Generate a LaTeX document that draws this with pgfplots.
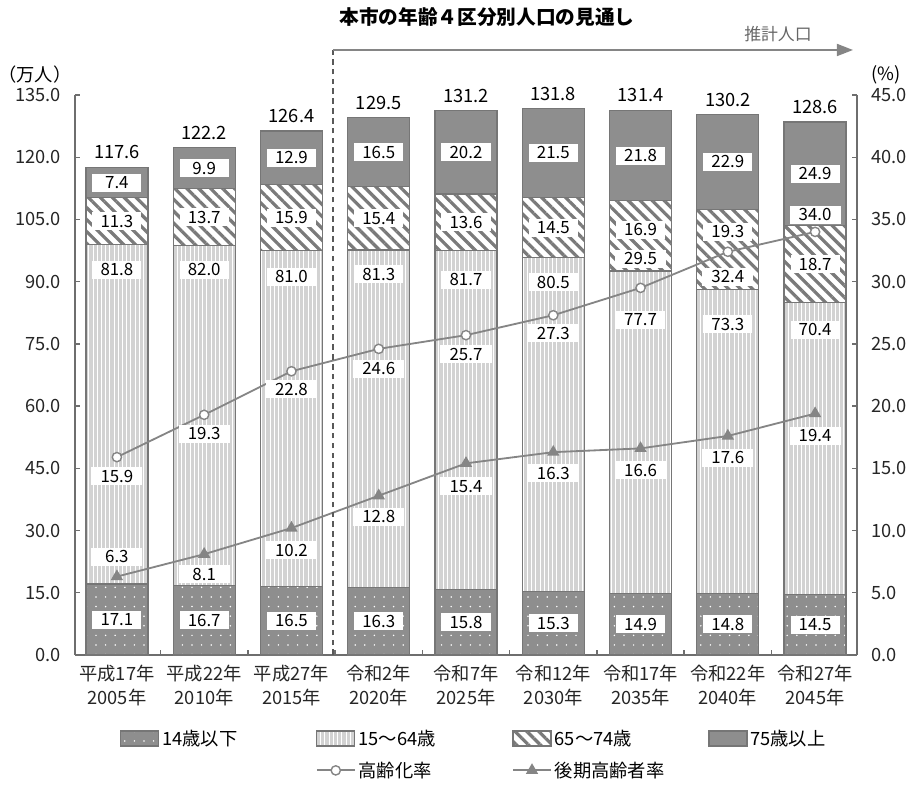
\documentclass[border=0pt]{standalone}
\usepackage{fontspec}
\setmainfont{Noto Sans CJK JP}
\usepackage{pgfplots}
\pgfplotsset{compat=1.18}
\usepackage{pgfplotstable}
\usetikzlibrary{patterns.meta,arrows.meta}

\definecolor{darkbar}{HTML}{8E8E8E}
\definecolor{lightbar}{HTML}{D2D2D2}
\definecolor{stripe}{HTML}{7A7A7A}
\definecolor{edge}{HTML}{767676}
\definecolor{axisgray}{HTML}{6E6E6E}
\definecolor{linegray}{HTML}{858585}

\newcommand\fs{\fontsize{12}{14}\selectfont}
\newcommand\fl{\fontsize{13}{17}\selectfont}

% population (10,000) by age group; bo/dc only move the value boxes
\pgfplotstableread{
x total a    b    c    d    bo   dc
0 117.6 17.1 81.8 11.3 7.4  6.0  0
1 122.2 16.7 82.0 13.7 9.9  5.8  0
2 126.4 16.5 81.0 15.9 12.9 6.3  0
3 129.5 16.3 81.3 15.4 16.5 5.8  0
4 131.2 15.8 81.7 13.6 20.2 7.0  0
5 131.8 15.3 80.5 14.5 21.5 6.0  0
6 131.4 14.9 77.7 16.9 21.8 11.8 1.5
7 130.2 14.8 73.3 19.3 22.9 8.4  4.3
8 128.6 14.5 70.4 18.7 24.9 6.5  0
}\pop

% rates (%); dya/dyl = label offset in px
\pgfplotstableread{
x aging dya late dyl
0 15.9  -19 6.3  20
1 19.3  -19 8.1  -20
2 22.8  -18 10.2 -22
3 24.6  -20 12.8 -21
4 25.7  -19 15.4 -23
5 27.3  -18 16.3 -21
6 29.5  29  16.6 -22
7 32.4  -25 17.6 -22
8 34.0  17  19.4 -22
}\rates

\pgfkeys{/pgf/number format/assume math mode=true}
\pgfplotsset{
  base/.style={scale only axis, width=195.5mm, height=140mm,
    xmin=-0.48, xmax=8.48, clip=false},
  barleg/.style={legend image code/.code={\draw[##1] (0mm,-1.9mm) rectangle (9.5mm,1.9mm);}},
  lineleg/.style={legend image code/.code={\draw[##1,sharp plot,mark repeat=2,mark phase=2] plot coordinates {(0mm,0mm) (4.75mm,0mm) (9.5mm,0mm)};}},
  valbox/.style={draw=none, mark=none, point meta=explicit,
    nodes near coords={\pgfmathprintnumber[fixed,fixed zerofill,precision=1]{\pgfplotspointmeta}},
    every node near coord/.append style={anchor=center, fill=white, text=black, font=\fs,
      inner sep=0pt, minimum width=12.3mm, minimum height=4.5mm}},
  agingstyle/.style={linegray, line width=1.3pt, mark=*, mark size=3.3pt,
    mark options={fill=white, draw=linegray, line width=1pt, solid}},
  latestyle/.style={linegray, line width=1.3pt, mark=triangle*, mark size=3.8pt,
    mark options={fill=linegray, draw=linegray, solid}},
}

\begin{document}
\begin{tikzpicture}
% bars
\begin{axis}[base,
  ybar stacked, bar width=15.5mm,
  ymin=0, ymax=135, ytick={0,15,...,135},
  yticklabel={\pgfmathprintnumber[fixed,fixed zerofill,precision=1]{\tick}},
  axis x line*=bottom, axis y line*=left,
  x axis line style={line width=1.6pt, axisgray},
  y axis line style={line width=1.2pt, axisgray},
  tick align=inside, major tick length=1.2mm, minor tick length=1.2mm,
  tick style={axisgray, line width=1pt},
  xtick={0,...,8}, major x tick style={draw=none},
  minor xtick={0.5,1.5,...,7.5},
  xticklabels={{平成17年\\2005年},{平成22年\\2010年},{平成27年\\2015年},{令和2年\\2020年},{令和7年\\2025年},{令和12年\\2030年},{令和17年\\2035年},{令和22年\\2040年},{令和27年\\2045年}},
  xticklabel style={align=center, font=\fl, text=black!85, yshift=-1.2mm},
  yticklabel style={font=\fl, text=black!85, xshift=-2.3mm},
  legend columns=4,
  legend style={at={(0.052,-0.123)}, anchor=north west, draw=none, font=\fl,
    /tikz/every even column/.append style={text width=37.7mm},
    /tikz/row sep=2.2mm},
]
\addplot[barleg, fill=darkbar, draw=edge, line width=0.9pt,
  postaction={pattern={Dots[radius=0.6pt,distance=2.4mm]}, pattern color=white}]
  table[x=x,y=a]{\pop};
\addlegendentry{14歳以下}
\addplot[barleg, fill=lightbar, draw=edge, line width=0.9pt,
  postaction={pattern={Lines[angle=90,distance=3pt,line width=0.4pt]}, pattern color=white}]
  table[x=x,y=b]{\pop};
\addlegendentry{15〜64歳}
\addplot[barleg, fill=white, draw=edge, line width=0.9pt,
  postaction={pattern={Lines[angle=-45,distance=6pt,line width=2.3pt]}, pattern color=stripe}]
  table[x=x,y=c]{\pop};
\addlegendentry{65〜74歳}
\addplot[barleg, fill=darkbar, draw=edge, line width=0.9pt]
  table[x=x,y=d]{\pop};
\addlegendentry{75歳以上}
\addlegendimage{empty legend}
\addlegendentry{}
\addlegendimage{lineleg, agingstyle}
\addlegendentry{高齢化率}
\addlegendimage{lineleg, latestyle}
\addlegendentry{後期高齢者率}
\end{axis}

% value boxes on the bars
\begin{axis}[base, ymin=0, ymax=135, hide axis]
\addplot[valbox] table[x=x, y expr=\thisrow{a}/2, meta=a]{\pop};
\addplot[valbox] table[x=x, y expr=\thisrow{a}+\thisrow{b}-\thisrow{bo}, meta=b]{\pop};
\addplot[valbox] table[x=x, y expr=\thisrow{a}+\thisrow{b}+\thisrow{c}/2+\thisrow{dc}, meta=c]{\pop};
\addplot[valbox] table[x=x, y expr=\thisrow{a}+\thisrow{b}+\thisrow{c}+\thisrow{d}/2, meta=d]{\pop};
\addplot[valbox, every node near coord/.append style={fill=none, font=\fl, yshift=10.5pt}]
  table[x=x, y=total, meta=total]{\pop};
\end{axis}

% rates
\begin{axis}[base, ymin=0, ymax=45, ytick={0,5,...,45},
  axis y line*=right, axis x line=none,
  y axis line style={line width=1.2pt, axisgray},
  tick align=inside, major tick length=1.2mm,
  tick style={axisgray, line width=1pt},
  yticklabel={\pgfmathprintnumber[fixed,fixed zerofill,precision=1]{\tick}},
  yticklabel style={font=\fl, text=black!85, xshift=2.3mm},
]
\addplot[agingstyle, point meta=explicit,
  visualization depends on={\thisrow{dya}\as\mydy},
  nodes near coords={\pgfmathprintnumber[fixed,fixed zerofill,precision=1]{\pgfplotspointmeta}},
  every node near coord/.append style={anchor=center, yshift=\mydy*0.7113pt, fill=white, text=black,
    font=\fs, inner sep=0pt, minimum width=12.8mm, minimum height=4.5mm}]
  table[x=x, y=aging, meta=aging]{\rates};
\addplot[latestyle, point meta=explicit,
  visualization depends on={\thisrow{dyl}\as\mydy},
  nodes near coords={\pgfmathprintnumber[fixed,fixed zerofill,precision=1]{\pgfplotspointmeta}},
  every node near coord/.append style={anchor=center, yshift=\mydy*0.7113pt, fill=white, text=black,
    font=\fs, inner sep=0pt, minimum width=12.8mm, minimum height=4.5mm}]
  table[x=x, y=late, meta=late]{\rates};
\end{axis}

% title, units, forecast marker (pixel grid of the reference)
\begin{scope}[x=0.25mm, y=-0.25mm, shift={(-18.75mm,163.75mm)}]
\node[font=\fontsize{14}{16}\selectfont\bfseries] at (487,17) {本市の年齢４区分別人口の見通し};
\node[font=\fl] at (35,75) {（万人）};
\node[font=\fl] at (886,75) {(\%)};
\draw[dash pattern=on 4pt off 3pt, line width=1pt, black!65] (333,655) -- (333,50);
\draw[line width=1.2pt, linegray, -{Triangle[length=4mm,width=3mm]}] (333,50) -- (853,50);
\node[font=\fs, text=black!60] at (778,34) {推計人口};
\end{scope}

\pgfresetboundingbox
\path[use as bounding box] (-18.75mm,163.75mm) rectangle (209.5mm,-33.5mm);
\end{tikzpicture}
\end{document}
